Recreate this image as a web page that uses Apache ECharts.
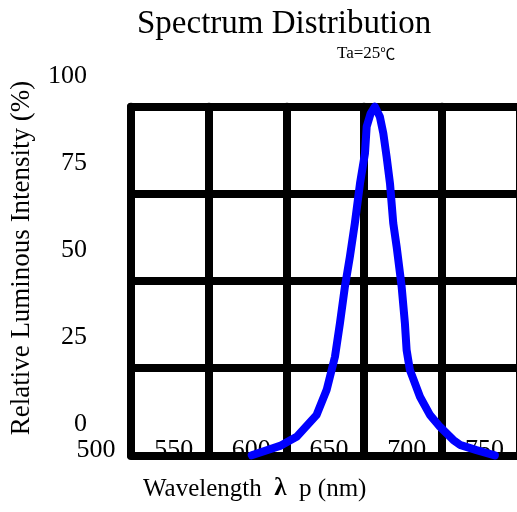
<!DOCTYPE html>
<html>
<head>
<meta charset="utf-8">
<script src="https://cdn.jsdelivr.net/npm/echarts@6/dist/echarts.min.js"></script>
<style>
  html, body { margin: 0; padding: 0; background: #fff; }
  #chart { width: 517px; height: 512px; }
</style>
</head>
<body>
<div id="chart"></div>
<script>
// Relative spectral intensity of the emitter (wavelength in nm, intensity in %)
const wavelengths = [577.7, 595.9, 606.6, 619.5, 625.9, 631.3, 634.5, 637.7, 640.9, 644.1,
                     647.4, 650.6, 651.7, 654.2, 657.0, 660.2, 662.4, 664.5, 666.7, 668.8,
                     671.0, 674.2, 676.3, 677.4, 679.5, 686.0, 692.4, 698.8, 707.4, 711.7,
                     722.4, 734.2];
const intensity   = [0, 2.7, 5.3, 11.6, 18.7, 28.3, 37.9, 48.4, 57.0, 66.6,
                     78.0, 86.6, 94.3, 98.0, 100, 97.1, 92.4, 85.7, 78.0, 66.6,
                     59.8, 48.4, 37.9, 30.2, 24.5, 16.8, 11.6, 8.2, 4.4, 3.0,
                     1.5, 0];

// Axis ranges and tick spacing
const xTicks = { min: 500, max: 750, interval: 50 };
const yTicks = { min: 0, max: 100, interval: 25 };

const titleText = 'Spectrum Distribution';
const conditionText = 'Ta=25{c|℃}';
const xName = 'Wavelength  {l|λ}  p (nm)';
const yName = 'Relative Luminous Intensity (%)';

const serif = 'Liberation Serif';
const seriesData = wavelengths.map((w, i) => [w, intensity[i]]);

const chart = echarts.init(document.getElementById('chart'), null, { renderer: 'canvas' });

const gridLine = { show: true, lineStyle: { color: '#000', width: 8, cap: 'round' } };
const labelFont = { fontFamily: serif, fontSize: 26, color: '#000' };

chart.setOption({
  animation: false,
  backgroundColor: '#fff',
  title: [
    { text: titleText, left: 137, top: 8, padding: 0,
      textStyle: { fontFamily: serif, fontSize: 33, fontWeight: 'normal', color: '#000' } },
    { text: conditionText, left: 337, top: 45, padding: 0,
      textStyle: { fontFamily: serif, fontSize: 17, fontWeight: 'normal', color: '#000',
        rich: { c: { fontFamily: 'Noto Sans CJK SC', fontSize: 15, color: '#000' } } } }
  ],
  grid: { left: 131, right: -2.4, top: 106.7, bottom: 56.7, containLabel: false, outerBoundsMode: 'none' },
  xAxis: [
    { // tick labels (drawn underneath the grid lines)
      type: 'value', min: xTicks.min, max: xTicks.max, interval: xTicks.interval, z: 1,
      axisLine: { show: false }, axisTick: { show: false }, splitLine: { show: false },
      axisLabel: Object.assign({ show: true, margin: -5, align: 'center', verticalAlign: 'middle',
        padding: [0, 70, 0, 0], showMinLabel: true, showMaxLabel: true }, labelFont)
    },
    { // heavy grid lines
      type: 'value', position: 'bottom', min: xTicks.min, max: xTicks.max, interval: xTicks.interval, z: 3,
      axisLine: { show: false }, axisTick: { show: false }, axisLabel: { show: false },
      splitLine: gridLine
    }
  ],
  yAxis: [
    {
      type: 'value', min: yTicks.min, max: yTicks.max, interval: yTicks.interval, z: 1,
      axisLine: { show: false }, axisTick: { show: false }, splitLine: { show: false },
      axisLabel: Object.assign({ show: true, margin: 44, align: 'right', verticalAlign: 'bottom',
        lineHeight: 62, showMinLabel: true, showMaxLabel: true }, labelFont)
    },
    {
      type: 'value', position: 'left', min: yTicks.min, max: yTicks.max, interval: yTicks.interval, z: 3,
      axisLine: { show: false }, axisTick: { show: false }, axisLabel: { show: false },
      splitLine: gridLine
    }
  ],
  graphic: [
    { type: 'text', x: 22, y: 258, rotation: Math.PI / 2, z: 10,
      style: { text: yName, fontFamily: serif, fontSize: 27, fill: '#000', align: 'center', verticalAlign: 'middle' } },
    { type: 'text', x: 143, y: 489, z: 10,
      style: { text: xName, fontFamily: serif, fontSize: 25, fill: '#000', align: 'left', verticalAlign: 'middle',
        rich: { l: { fontFamily: serif, fontSize: 25, fontWeight: 'bold', fill: '#000' } } } }
  ],
  series: [{
    type: 'line',
    xAxisIndex: 0, yAxisIndex: 0,
    data: seriesData,
    z: 10,
    clip: false,
    showSymbol: false,
    smooth: false,
    lineStyle: { color: '#0000ff', width: 8, cap: 'round', join: 'round' }
  }]
});
</script>
</body>
</html>
